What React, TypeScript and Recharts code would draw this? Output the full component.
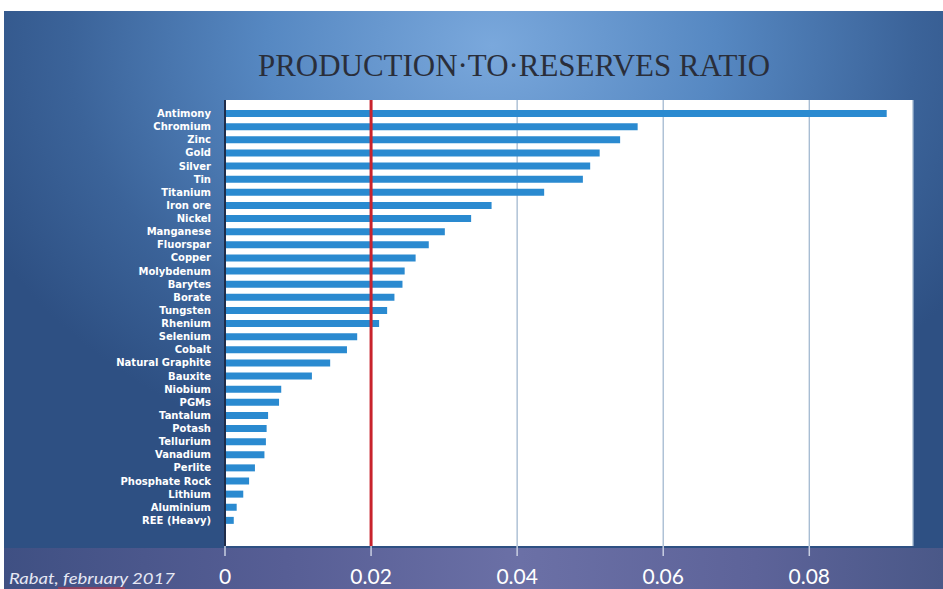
import {
  BarChart,
  Bar,
  XAxis,
  YAxis,
  CartesianGrid,
  ReferenceLine,
} from "recharts";

// minerals, top to bottom
const minerals = [
  "Antimony",
  "Chromium",
  "Zinc",
  "Gold",
  "Silver",
  "Tin",
  "Titanium",
  "Iron ore",
  "Nickel",
  "Manganese",
  "Fluorspar",
  "Copper",
  "Molybdenum",
  "Barytes",
  "Borate",
  "Tungsten",
  "Rhenium",
  "Selenium",
  "Cobalt",
  "Natural Graphite",
  "Bauxite",
  "Niobium",
  "PGMs",
  "Tantalum",
  "Potash",
  "Tellurium",
  "Vanadium",
  "Perlite",
  "Phosphate Rock",
  "Lithium",
  "Aluminium",
  "REE (Heavy)",
];

// production / reserves
const ratios = [
  0.0906, 0.0565, 0.0541, 0.0513, 0.05, 0.049, 0.0437, 0.0365, 0.0337,
  0.0301, 0.0279, 0.0261, 0.0246, 0.0243, 0.0232, 0.0222, 0.0211, 0.0181,
  0.0167, 0.0144, 0.0119, 0.0077, 0.0074, 0.0059, 0.0057, 0.0056, 0.0054,
  0.0041, 0.0033, 0.0025, 0.0016, 0.0012,
];

const xTicks = [0, 0.02, 0.04, 0.06, 0.08];
const threshold = 0.02;

const data = minerals.map((name, i) => ({ name, ratio: ratios[i] }));

const App = () => {
  return (
    <div
      style={{
        position: "absolute",
        left: 0,
        top: 0,
        width: 943,
        height: 589,
        background: "#ffffff",
        overflow: "hidden",
      }}
    >
      <div
        style={{
          position: "absolute",
          left: 4,
          top: 11,
          width: 939,
          height: 578,
          background:
            "radial-gradient(ellipse 60% 75% at 52% 6%, #7aa8dc 0%, #5688c2 40%, #3b6399 75%, #2e5083 100%)",
        }}
      />
      <div
        style={{
          position: "absolute",
          left: 4,
          top: 548,
          width: 939,
          height: 41,
          background:
            "linear-gradient(to right, #3f5083 0%, #575e95 30%, #6b70a6 55%, #5d6399 80%, #4a5888 100%)",
        }}
      />
      <div style={{ position: "absolute", left: 0, top: 0 }}>
        <BarChart
          width={943}
          height={589}
          data={data}
          layout="vertical"
          margin={{ top: 100, right: 30, bottom: 0, left: 0 }}
        >
          <CartesianGrid
            horizontal={false}
            fill="#ffffff"
            fillOpacity={1}
            stroke="#a3b9d0"
            strokeWidth={1.3}
          />
          <XAxis
            type="number"
            domain={[0, 0.0942]}
            ticks={xTicks}
            height={43}
            axisLine={false}
            tickSize={10}
            tickMargin={13}
            tickLine={{ stroke: "#c9cfe2", strokeWidth: 1.5 }}
            tickFormatter={(v: number) => (v === 0 ? "0" : v.toFixed(2))}
            tick={{ fill: "#ffffff", fontSize: 21, fontFamily: "Lato, 'Open Sans', sans-serif" }}
          />
          <YAxis
            type="category"
            dataKey="name"
            width={225}
            interval={0}
            padding={{ top: 7, bottom: 19 }}
            tickLine={false}
            tickSize={0}
            tickMargin={14}
            axisLine={{ stroke: "#1f2d4a", strokeWidth: 2 }}
            tick={{
              fill: "#ffffff",
              fontSize: 10,
              fontWeight: 700,
              fontFamily: "'DejaVu Sans', sans-serif",
            }}
          />
          <Bar
            dataKey="ratio"
            fill="#2a8ad0"
            barSize={7}
            isAnimationActive={false}
          />
          <ReferenceLine x={threshold} stroke="#c8232c" strokeWidth={3} />
        </BarChart>
      </div>
      <svg
        width={943}
        height={589}
        style={{ position: "absolute", left: 0, top: 0, pointerEvents: "none" }}
      >
        <text
          x={258}
          y={76}
          textLength={512}
          lengthAdjust="spacingAndGlyphs"
          fontSize={31}
          fontFamily="'Liberation Serif', 'DejaVu Serif', serif"
          fill="#2a2e3a"
        >
          PRODUCTION·TO·RESERVES RATIO
        </text>
        <text
          x={9}
          y={584}
          textLength={166}
          lengthAdjust="spacingAndGlyphs"
          fontSize={16}
          fontStyle="italic"
          fontFamily="Lato, 'Open Sans', sans-serif"
          fill="#e6e8f4"
        >
          Rabat, february 2017
        </text>
        <line x1={58} y1={588} x2={125} y2={588} stroke="#d0303a" strokeWidth={1.2} />
      </svg>
    </div>
  );
};

export default App;
